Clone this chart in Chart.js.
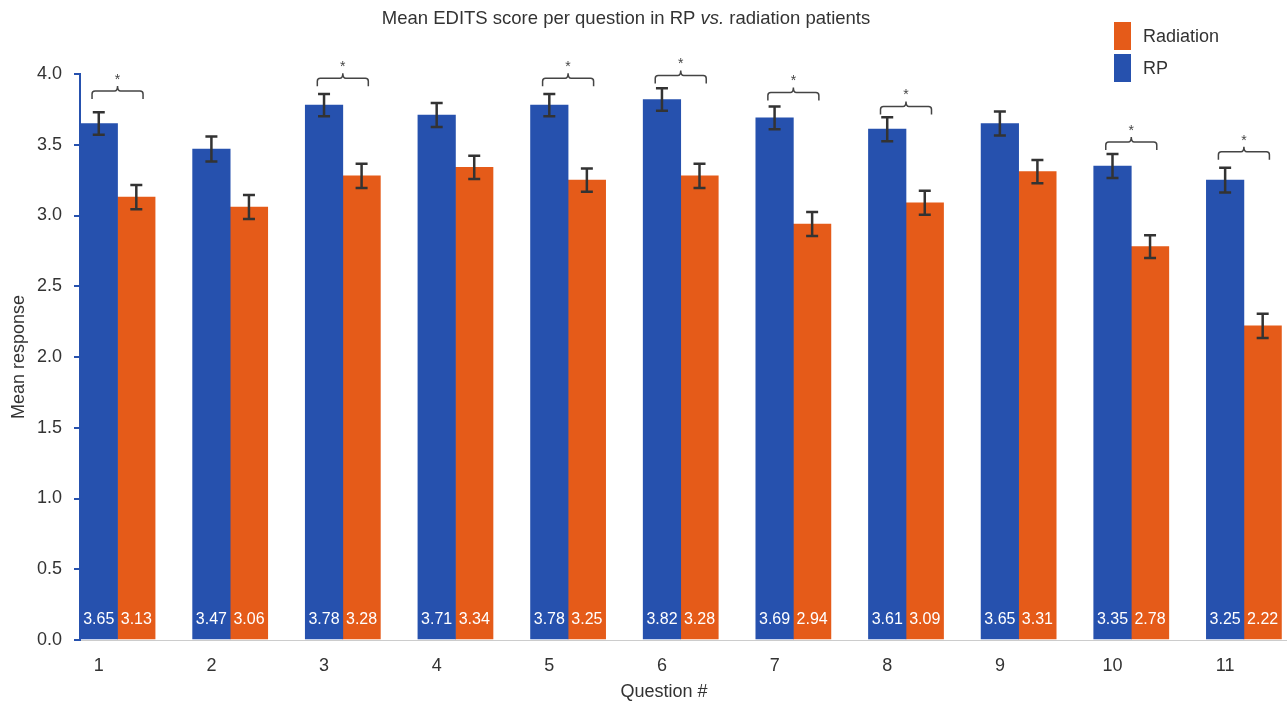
<!DOCTYPE html>
<html>
<head>
<meta charset="utf-8">
<script src="https://cdn.jsdelivr.net/npm/chart.js@4.4.1/dist/chart.umd.min.js"></script>
<style>
  html, body { margin: 0; padding: 0; background: #fff; overflow: hidden; }
  #wrap { width: 1287px; height: 702px; overflow: hidden; }
</style>
</head>
<body>
<div id="wrap"><canvas id="chart" width="1330" height="702"></canvas></div>
<script>
const questions = ['1', '2', '3', '4', '5', '6', '7', '8', '9', '10', '11'];
const rpMeans = [3.65, 3.47, 3.78, 3.71, 3.78, 3.82, 3.69, 3.61, 3.65, 3.35, 3.25];
const radMeans = [3.13, 3.06, 3.28, 3.34, 3.25, 3.28, 2.94, 3.09, 3.31, 2.78, 2.22];
const rpErr = [0.08, 0.088, 0.078, 0.085, 0.078, 0.08, 0.08, 0.085, 0.085, 0.085, 0.088];
const radErr = [0.085, 0.085, 0.085, 0.082, 0.082, 0.085, 0.085, 0.085, 0.082, 0.08, 0.085];
// significant pairs (*) and the level of their bracket, in response units
const sigLevel = [3.88, null, 3.97, null, 3.97, 3.99, 3.87, 3.77, null, 3.52, 3.45];
const yTicks = [0, 0.5, 1, 1.5, 2, 2.5, 3, 3.5, 4];

const BLUE = '#2651ae';
const ORANGE = '#e55b19';
const FONT = '"Liberation Sans", Arial, Helvetica, sans-serif';
const TEXT = '#333333';

// error bars, value labels, significance brackets, titles, legend
const extras = {
  id: 'extras',
  afterDatasetsDraw(chart) {
    const ctx = chart.ctx;
    const y = chart.scales.y;
    const sets = [[0, rpMeans, rpErr], [1, radMeans, radErr]];

    ctx.save();
    // error bars
    ctx.strokeStyle = '#333';
    ctx.lineWidth = 2.5;
    sets.forEach(([idx, means, errs]) => {
      chart.getDatasetMeta(idx).data.forEach((bar, i) => {
        const top = y.getPixelForValue(means[i] + errs[i]);
        const bot = y.getPixelForValue(means[i] - errs[i]);
        ctx.beginPath();
        ctx.moveTo(bar.x, top); ctx.lineTo(bar.x, bot);
        ctx.moveTo(bar.x - 6, top); ctx.lineTo(bar.x + 6, top);
        ctx.moveTo(bar.x - 6, bot); ctx.lineTo(bar.x + 6, bot);
        ctx.stroke();
      });
    });

    // value labels inside bars
    ctx.fillStyle = '#fff';
    ctx.font = '16px ' + FONT;
    ctx.textAlign = 'center';
    ctx.textBaseline = 'middle';
    const base = y.getPixelForValue(0);
    sets.forEach(([idx, means]) => {
      chart.getDatasetMeta(idx).data.forEach((bar, i) => {
        ctx.fillText(means[i].toFixed(2), bar.x, base - 20);
      });
    });

    // brackets
    const blueBars = chart.getDatasetMeta(0).data;
    const orangeBars = chart.getDatasetMeta(1).data;
    ctx.strokeStyle = '#444';
    ctx.lineWidth = 1.5;
    ctx.fillStyle = '#444';
    ctx.font = '14px ' + FONT;
    sigLevel.forEach((lvl, i) => {
      if (lvl === null) return;
      const xc = (blueBars[i].x + orangeBars[i].x) / 2;
      const x0 = xc - 25.5, x1 = xc + 25.5;
      const yl = y.getPixelForValue(lvl);
      ctx.beginPath();
      ctx.moveTo(x0, yl + 8);
      ctx.lineTo(x0, yl + 3);
      ctx.quadraticCurveTo(x0, yl, x0 + 3, yl);
      ctx.lineTo(xc - 3, yl);
      ctx.quadraticCurveTo(xc, yl, xc, yl - 5);
      ctx.quadraticCurveTo(xc, yl, xc + 3, yl);
      ctx.lineTo(x1 - 3, yl);
      ctx.quadraticCurveTo(x1, yl, x1, yl + 3);
      ctx.lineTo(x1, yl + 8);
      ctx.stroke();
      ctx.fillText('*', xc, yl - 11);
    });

    // x axis title, centred under the question labels
    ctx.fillStyle = TEXT;
    ctx.font = '18px ' + FONT;
    const xMid = (blueBars[0].x + blueBars[blueBars.length - 1].x) / 2;
    ctx.fillText('Question #', xMid + 2, 692);

    // title with italic "vs."
    const parts = [
      ['Mean EDITS score per question in RP ', 'normal'],
      ['vs.', 'italic'],
      [' radiation patients', 'normal']
    ];
    let total = 0;
    parts.forEach(p => { ctx.font = p[1] + ' 18.5px ' + FONT; p.push(ctx.measureText(p[0]).width); total += p[2]; });
    let tx = 626 - total / 2;
    ctx.textAlign = 'left';
    parts.forEach(p => {
      ctx.font = p[1] + ' 18.5px ' + FONT;
      ctx.fillText(p[0], tx, 19);
      tx += p[2];
    });

    // legend (Radiation above RP)
    const items = [[chart.data.datasets[1], 22], [chart.data.datasets[0], 54]];
    ctx.font = '18px ' + FONT;
    items.forEach(([ds, top]) => {
      ctx.fillStyle = ds.backgroundColor;
      ctx.fillRect(1114, top, 17, 28);
      ctx.fillStyle = TEXT;
      ctx.fillText(ds.label, 1143, top + 15);
    });
    ctx.restore();
  }
};

new Chart(document.getElementById('chart'), {
  type: 'bar',
  data: {
    labels: questions,
    datasets: [
      { label: 'RP', data: rpMeans, backgroundColor: BLUE },
      { label: 'Radiation', data: radMeans, backgroundColor: ORANGE },
      // empty slot that makes the gap after each pair
      { label: '', data: questions.map(() => null), backgroundColor: 'rgba(0,0,0,0)' }
    ]
  },
  options: {
    responsive: false,
    animation: false,
    layout: { padding: { top: 74, right: 11, bottom: 0, left: 0 } },
    datasets: { bar: { categoryPercentage: 1.0, barPercentage: 1.0 } },
    plugins: {
      legend: { display: false },
      title: { display: false },
      tooltip: { enabled: false }
    },
    scales: {
      x: {
        grid: { display: false },
        border: { color: '#cccccc', width: 1 },
        ticks: {
          color: TEXT, font: { family: FONT, size: 18 },
          padding: 7, maxRotation: 0, autoSkip: false, labelOffset: -37.5
        },
        afterFit: s => { s.height = 62; }
      },
      y: {
        min: 0, max: 4,
        afterBuildTicks: s => { s.ticks = yTicks.map(v => ({ value: v })); },
        grid: { drawOnChartArea: false, drawTicks: true, tickLength: 6, color: BLUE, lineWidth: 2 },
        border: { color: BLUE, width: 2 },
        ticks: {
          color: TEXT, font: { family: FONT, size: 18 }, padding: 12,
          callback: v => v.toFixed(1)
        },
        title: {
          display: true, text: 'Mean response', color: TEXT,
          font: { family: FONT, size: 18 }, padding: { top: 8, bottom: 0 }
        },
        afterFit: s => { s.width = 80; }
      }
    }
  },
  plugins: [extras]
});
</script>
</body>
</html>
